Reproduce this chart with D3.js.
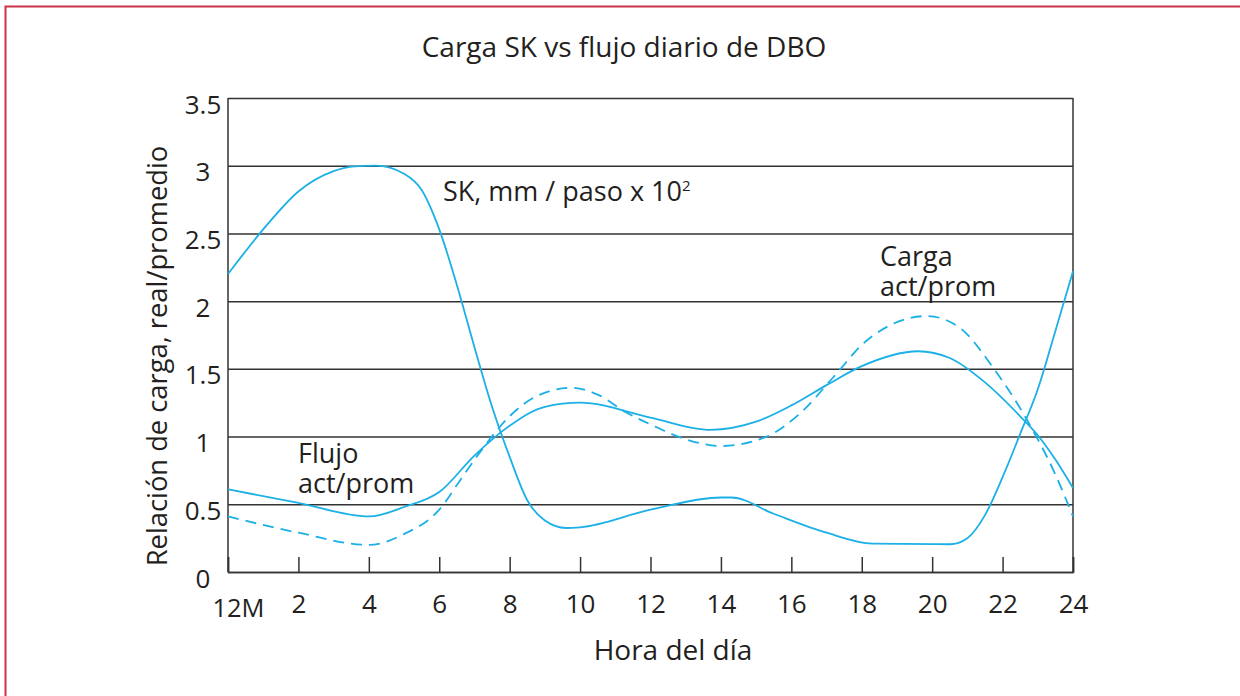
<!DOCTYPE html>
<html>
<head>
<meta charset="utf-8">
<script src="https://cdn.jsdelivr.net/npm/d3@7"></script>
<style>
  body { margin: 0; background: #fff; }
  text { font-family: "Open Sans", sans-serif; fill: #231f20; }
</style>
</head>
<body>
<div id="chart"></div>
<script>
// data (hour of day, ratio)
var skHours   = [0, 1, 2, 3, 3.6, 4.2, 5, 5.5, 6, 6.5, 7, 7.5, 8, 8.5, 9, 9.6, 10, 12, 14, 14.3, 15.5, 17, 18.3, 20.5, 21, 21.5, 22, 22.5, 23, 23.5, 24];
var skValues  = [2.20, 2.53, 2.81, 2.96, 2.995, 3.0, 2.94, 2.82, 2.53, 2.12, 1.66, 1.22, 0.85, 0.53, 0.38, 0.325, 0.33, 0.46, 0.55, 0.55, 0.43, 0.29, 0.21, 0.205, 0.25, 0.42, 0.70, 1.02, 1.35, 1.78, 2.22];

var flowHours  = [0, 2, 4, 5, 6, 7, 8, 9, 10, 12, 13.7, 15, 16, 17, 18, 19.6, 20.5, 21.5, 22.5, 23, 23.5, 24];
var flowValues = [0.61, 0.51, 0.41, 0.48, 0.59, 0.86, 1.08, 1.22, 1.25, 1.14, 1.05, 1.11, 1.23, 1.38, 1.52, 1.63, 1.58, 1.40, 1.15, 1.01, 0.83, 0.62];

var loadHours  = [0, 2, 4, 5, 6, 6.6, 7.2, 8, 8.7, 9.75, 10.5, 11.3, 12, 13, 14, 15.3, 16.2, 17.2, 18.1, 19.85, 20.8, 21.7, 22.7, 23.5, 24];
var loadValues = [0.41, 0.29, 0.20, 0.28, 0.46, 0.68, 0.90, 1.15, 1.29, 1.36, 1.31, 1.18, 1.09, 0.98, 0.93, 1.0, 1.16, 1.44, 1.70, 1.89, 1.80, 1.52, 1.12, 0.72, 0.41];

var xTicks = [0, 2, 4, 6, 8, 10, 12, 14, 16, 18, 20, 22, 24];
var yTicks = [0, 0.5, 1, 1.5, 2, 2.5, 3, 3.5];

//chart set ups
var svgWidth = 1240;
var svgHeight = 696;
var margin = { top: 98, right: 167, bottom: 124, left: 228 };
var chartWidth = svgWidth - margin.left - margin.right;
var chartHeight = svgHeight - margin.top - margin.bottom;
var blue = "#1bb0e6";
var ink = "#333";

var svg = d3.select("#chart").append("svg")
    .attr("width", svgWidth)
    .attr("height", svgHeight);

// red frame
svg.append("path")
    .attr("d", "M1240,6.5 H5.5 V696")
    .attr("fill", "none")
    .attr("stroke", "#cc3349")
    .attr("stroke-width", 2);

var chartGroup = svg.append("g")
    .attr("transform", `translate(${margin.left},${margin.top})`);

var x = d3.scaleLinear().domain([0, 24]).range([0, chartWidth]);
var y = d3.scaleLinear().domain([0, 3.5]).range([chartHeight, 0]);

// horizontal grid + y labels
var yAxis = chartGroup.append("g")
    .call(d3.axisLeft(y).tickValues(yTicks).tickSize(-chartWidth).tickFormat(d => d));
yAxis.select(".domain").remove();
yAxis.selectAll("line").attr("stroke", ink).attr("stroke-width", 1.5);
yAxis.selectAll("text")
    .attr("x", -25)
    .attr("dy", 15)
    .attr("text-anchor", "middle")
    .style("font-family", "'Open Sans', sans-serif")
    .style("font-size", "26px")
    .attr("fill", "#231f20");

// bottom axis with inner ticks
var xAxis = chartGroup.append("g")
    .attr("transform", `translate(0,${chartHeight})`)
    .call(d3.axisBottom(x).tickValues(xTicks).tickSize(-15).tickFormat(d => d === 0 ? "12M" : d));
xAxis.select(".domain").attr("stroke", ink).attr("stroke-width", 1.5);
xAxis.selectAll("line").attr("stroke", ink).attr("stroke-width", 1.5);
xAxis.selectAll("text")
    .attr("y", 41)
    .attr("dy", 0)
    .style("font-family", "'Open Sans', sans-serif")
    .style("font-size", "26px")
    .attr("fill", "#231f20");
xAxis.selectAll(".tick").filter(d => d === 0).select("text")
    .attr("x", 10)
    .attr("y", 45)
    .style("font-size", "25.5px");

// side borders
chartGroup.append("line")
    .attr("x1", 0).attr("x2", 0).attr("y1", 0).attr("y2", chartHeight)
    .attr("stroke", ink).attr("stroke-width", 1.5);
chartGroup.append("line")
    .attr("x1", chartWidth).attr("x2", chartWidth).attr("y1", 0).attr("y2", chartHeight)
    .attr("stroke", ink).attr("stroke-width", 1.5);

// curves
var line = d3.line()
    .x(d => x(d[0]))
    .y(d => y(d[1]))
    .curve(d3.curveMonotoneX);

function addCurve(hours, values, dashed) {
    chartGroup.append("path")
        .datum(d3.zip(hours, values))
        .attr("d", line)
        .attr("fill", "none")
        .attr("stroke", blue)
        .attr("stroke-width", 1.8)
        .attr("stroke-dasharray", dashed ? "11,7" : null);
}
addCurve(skHours, skValues, false);
addCurve(flowHours, flowValues, false);
addCurve(loadHours, loadValues, true);

// annotations
var sk = svg.append("text")
    .attr("x", 443)
    .attr("y", 201)
    .style("font-size", "27px");
sk.append("tspan").text("SK, mm / paso x 10");
sk.append("tspan").attr("dy", -10).style("font-size", "15px").text("2");

function twoLines(xPos, yPos, first, second) {
    var t = svg.append("text")
        .attr("x", xPos)
        .attr("y", yPos)
        .style("font-size", "27px");
    t.append("tspan").attr("x", xPos).text(first);
    t.append("tspan").attr("x", xPos).attr("dy", 30).text(second);
}
twoLines(298, 463, "Flujo", "act/prom");
twoLines(880, 266, "Carga", "act/prom");

// title and axis labels
svg.append("text")
    .attr("x", 624)
    .attr("y", 57)
    .attr("text-anchor", "middle")
    .style("font-size", "28px")
    .text("Carga SK vs flujo diario de DBO");

svg.append("text")
    .attr("x", 673)
    .attr("y", 660)
    .attr("text-anchor", "middle")
    .style("font-size", "28px")
    .text("Hora del día");

svg.append("text")
    .attr("transform", "translate(167,356) rotate(-90)")
    .attr("text-anchor", "middle")
    .style("font-size", "27.3px")
    .text("Relación de carga, real/promedio");
</script>
</body>
</html>
